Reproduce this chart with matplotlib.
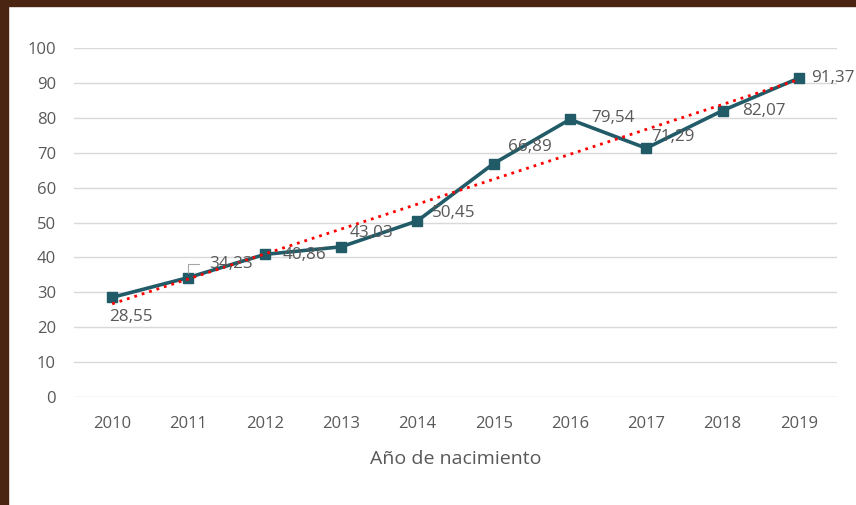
import matplotlib
matplotlib.use("Agg")
import matplotlib.pyplot as plt
import numpy as np
from matplotlib.patches import Rectangle

years = ["2010", "2011", "2012", "2013", "2014", "2015", "2016", "2017", "2018", "2019"]
values = [28.55, 34.23, 40.86, 43.03, 50.45, 66.89, 79.54, 71.29, 82.07, 91.37]
labels = ["28,55", "34,23", "40,86", "43,03", "50,45", "66,89", "79,54", "71,29", "82,07", "91,37"]
yticks = [0, 10, 20, 30, 40, 50, 60, 70, 80, 90, 100]
xlabel = "Año de nacimiento"

plt.rcParams['font.family'] = ['Open Sans', 'DejaVu Sans']

fig = plt.figure(figsize=(8.56, 5.05), dpi=100)
fig.patch.set_facecolor("white")
ax = fig.add_axes([74/856, 1 - 397/505, (837-74)/856, (397-48)/505])

x = np.arange(len(years))
grid_c = "#d9d9d9"
txt_c = "#595959"

for t in yticks:
    ax.axhline(t, color=grid_c, lw=1.0, zorder=0)

# trendline (linear fit)
coef = np.polyfit(x, values, 1)
ax.plot(x, np.polyval(coef, x), color="#ff0000", lw=2.0, ls=(0, (1, 1.8)), zorder=3)

ax.plot(x, values, color="#225b68", lw=2.6, marker="s", markersize=7.5, zorder=2)

# label offsets in pixels (dx, dy)
offs = [(-3, -20), (21, 14), (18, -1), (9, 14), (15, 8), (14, 17), (21, 1), (5, 11), (20, 0), (12, 0)]
for i, (v, lab) in enumerate(zip(values, labels)):
    dx, dy = offs[i]
    ax.annotate(lab, (i, v), xytext=(dx, dy), textcoords="offset pixels",
                ha="left", va="center", fontsize=12.3, color=txt_c, zorder=4)

# leader line for second label
ax.annotate("", xy=(1, values[1]), xytext=(11, 14), textcoords="offset pixels",
            arrowprops=dict(arrowstyle="-", color="#a6a6a6", lw=0.8,
                            shrinkA=0, shrinkB=3,
                            connectionstyle="angle,angleA=0,angleB=90,rad=0"))

ax.set_xlim(-0.5, len(years) - 0.5)
ax.set_ylim(0, 100)
ax.set_yticks(yticks)
ax.set_xticks(x)
ax.set_xticklabels(years)
for s in ax.spines.values():
    s.set_visible(False)
ax.tick_params(axis="x", length=0, colors=txt_c, labelsize=12, pad=14)
ax.tick_params(axis="y", length=0, colors=txt_c, labelsize=12, pad=13)
ax.set_xlabel(xlabel, fontsize=14, color=txt_c, labelpad=13)

# brown frame at top and left
fig.patches.append(Rectangle((0, 1 - 6/505), 1, 6/505, transform=fig.transFigure,
                             color="#4a2511", zorder=10))
fig.patches.append(Rectangle((0, 0), 8/856, 1, transform=fig.transFigure,
                             color="#4a2511", zorder=10))

fig.savefig("out.png", dpi=100)
